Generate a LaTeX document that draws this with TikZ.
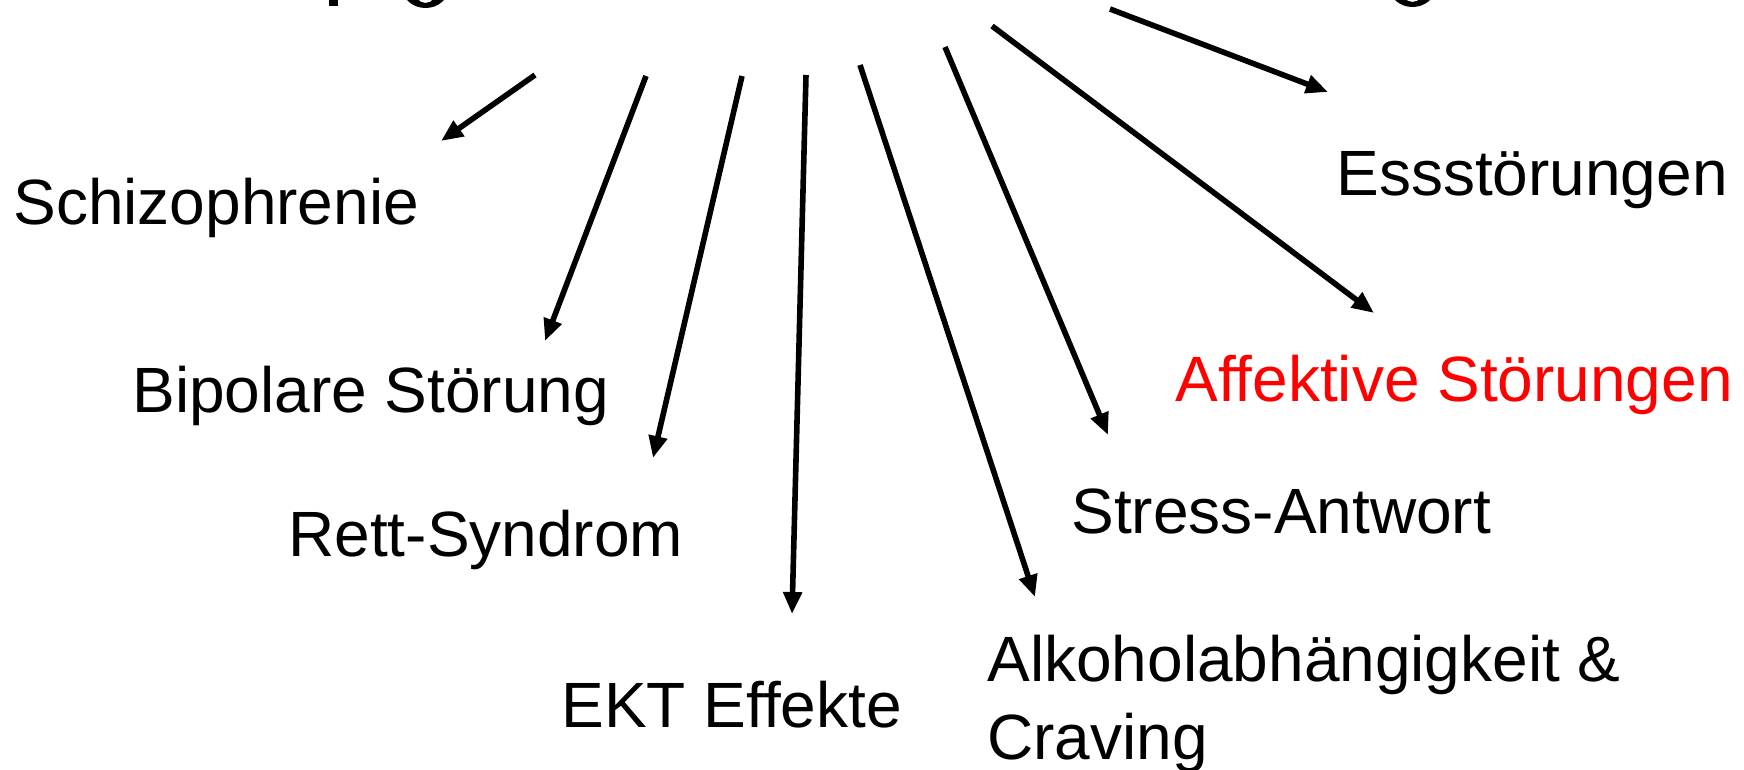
\documentclass[tikz,border=0pt]{standalone}
\usepackage{fontspec}
\setmainfont{Liberation Sans}
\usetikzlibrary{arrows.meta}
\definecolor{hotred}{RGB}{255,0,0}
\tikzset{
  label/.style={anchor=base west, inner sep=0pt, font=\fontsize{32pt}{39pt}\selectfont},
  link/.style={line width=2.8pt, -{Triangle[length=11pt,width=9pt]}},
  glyphpart/.style={fill=black, even odd rule}
}
\begin{document}
\begin{tikzpicture}[x=0.5pt, y=-0.5pt]
  \useasboundingbox (0,0) rectangle (1744,770);
  \begin{scope}
    \clip (0,0) rectangle (1744,770);
    % lower ends of the heading's descenders
    \fill (329,-5) rectangle (338,6);
    \path[glyphpart] (425.5,-12) ellipse [x radius=23, y radius=20]
                     (425.5,-12) ellipse [x radius=12, y radius=15];
    \path[glyphpart] (1412.5,-13) ellipse [x radius=23, y radius=20]
                     (1412.5,-13) ellipse [x radius=12, y radius=15];

    % labels
    \node[label] (schizo)  at (13,225)   {Schizophrenie};
    \node[label] (bipolar) at (132,412)  {Bipolare Störung};
    \node[label] (rett)    at (288,556)  {Rett-Syndrom};
    \node[label] (ekt)     at (561,727)  {EKT Effekte};
    % a two-line node sits on the baseline of its last line
    \node[label, align=left] (alk) at (987,759) {Alkoholabhängigkeit \&\\Craving};
    \node[label] (stress)  at (1071,533) {Stress-Antwort};
    \node[label, text=hotred] (affekt) at (1175,401) {Affektive Störungen};
    \node[label] (ess)     at (1336,196) {Essstörungen};

    % arrow start and tip points
    \coordinate (s1) at (535,75);   \coordinate (t1) at (441,141);
    \coordinate (s2) at (646,76);   \coordinate (t2) at (545,341);
    \coordinate (s3) at (742,76);   \coordinate (t3) at (653,458);
    \coordinate (s4) at (806,75);   \coordinate (t4) at (792,614);
    \coordinate (s5) at (860,65);   \coordinate (t5) at (1035,597);
    \coordinate (s6) at (945,47);   \coordinate (t6) at (1108,435);
    \coordinate (s7) at (992,26);   \coordinate (t7) at (1374,313);
    \coordinate (s8) at (1110,9);   \coordinate (t8) at (1328,92);

    \foreach \i in {1,...,8} {
      \draw[link] (s\i) -- (t\i);
    }
  \end{scope}
\end{tikzpicture}
\end{document}
